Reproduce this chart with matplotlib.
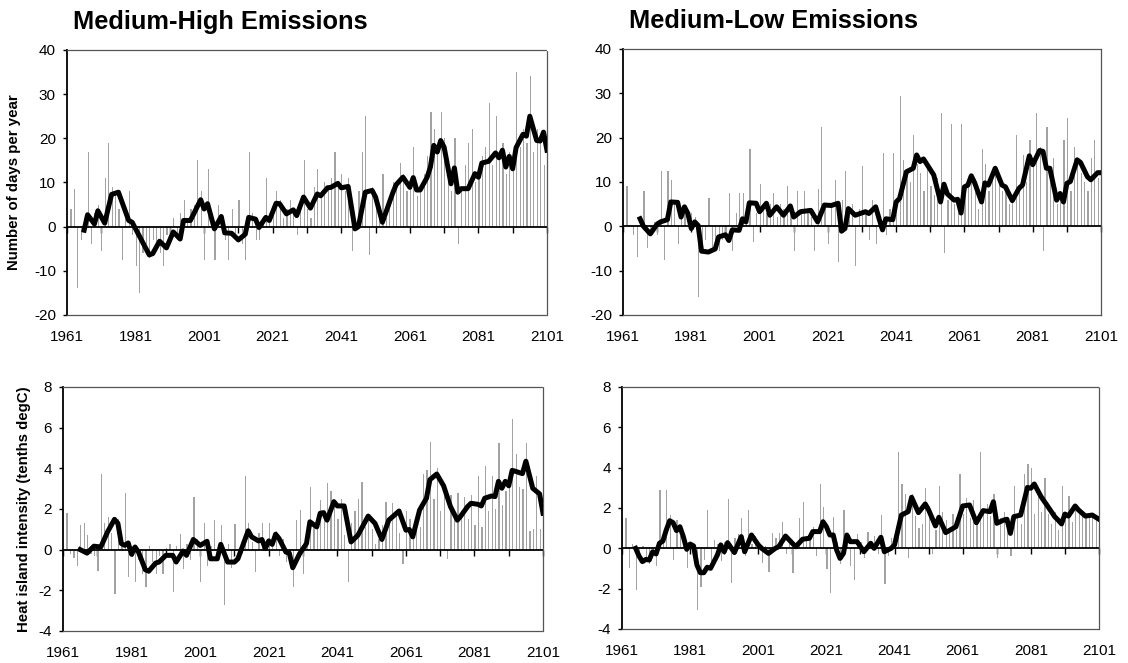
import matplotlib
matplotlib.use('Agg')
import matplotlib.pyplot as plt

plt.rcParams['font.family'] = ['Liberation Sans', 'DejaVu Sans']
plt.rcParams['axes.unicode_minus'] = False

# ----------------------------- DATA --------------------------------------------------
bar_years = list(range(1961, 2101))
label_years = list(range(1961, 2102, 20))
decade_years = list(range(1961, 2102, 10))

# annual values, one per year 1961-2100
mh_days = [0, 4, 8.5, -14, -3, 2, 17, -4, 3, 5,
           -5.5, 11, 19, 9, 8, 4, -7.5, 3, 8, -2,
           -9, -15, -6, -4, -7, -3, -5, -6, -9, -2,
           -4, 2, -3, 3, 6, 1, 4, 5, 15, 8,
           -7.5, 13, 3, -7.5, 5, 2, -3, -7.5, 4, -2,
           6, -4, -7.5, 17, 3, -3, -3, 2, 11, 1,
           5, 8, 6, 2, 4, 6, 3, -2, 5, 15,
           4, 2, 9, 13, 8, 10, 9, 11, 17, 10,
           12, 8, 11, -5.5, -1, 8, 17, 25, -6.5, 9,
           5, 3, 12, 2, 6, 10, 9, 14.5, 12, 8,
           10, 18, 7, 8, 12, 16, 26, 22, 18, 26,
           20, 12, 8, 20, -4, 9, 14, 19, 22, 10,
           12, 16, 18, 28, 14, 25, 16, 19, 12, 17,
           14, 35, 18, 22, 19, 34, 17, 22, 20, 14]

ml_days = [0, 9, 0, -2, -7, 2, 8, -5, -1, 1,
           -2, 12.5, -7.5, 12.5, 10.5, 5, -4, 3, 4, 2,
           3, 2, -16, -6, -3, 6.5, -5, -4, -5.5, -3,
           -2, 7.5, -5.5, 3, 7.5, 7.5, 2, 17.5, -3.5, 3,
           9.5, 4, 3, 5, 7.5, 2, 5, 4, 9, 3,
           -5.5, 8, 3, 8, 4, 2, -5.5, 8.5, 22.5, 4,
           -4, 5, 10.5, -8, 6, 12.5, 3, 5, -9, 4,
           13.5, 3, -3, 6, -4, 2, 16.5, -2, 4, 16.5,
           6, 29.5, 15, 12, 10, 20.5, 14, 12, 8, 14,
           9, 7, 11, 25.5, -6, 6, 23, 5, 3, 23,
           8, 10, 11, 9, 4, 17.5, 14, 8, 12, 13,
           10, 8, 9, 5, 6, 20.5, 8, 16, 10, 19.5,
           14, 25.5, 18, -5.5, 22.5, 10, 15.5, 5, 8, 19.5,
           24.5, 8, 18, 14, 12, 10, 8, 15.5, 19.5, 11]

mh_heat = [0, 1.8, -0.2, -0.4, -0.8, 1.2, 1.3, 0.7, -0.2, -0.3,
           -1.05, 3.7, 1.3, 1.6, 0.8, -2.2, 1.5, 0.4, 2.8, -1.35,
           0.2, -1.6, -0.5, -1.2, -1.85, 0.2, -0.6, -1.2, -0.3, -1.2,
           0.1, 0.3, -2.1, 0.2, 0.76, -0.94, 0.3, -0.5, 2.6, 0.5,
           -1.6, 1.3, -0.8, 0.2, 1.45, -0.5, 1.2, -2.7, 0.3, -0.9,
           1.25, -0.5, -0.2, 3.6, 1.3, 0.4, -1.1, 0.8, 1.3, 0.4,
           1.3, 0.6, 0.9, -0.3, 0.5, -0.6, -0.2, -1.85, 1.45, 1.95,
           -1.2, 0.4, 3.1, 1.3, 1.0, 2.45, 1.9, 3.3, 2.9, 2.4,
           1.5, 2.5, 0.7, -1.6, 1.3, 1.9, 2.5, 3.35, 1.1, 1.5,
           1.0, 0.3, 0.5, 1.2, 2.35, 1.5, 2.3, 1.8, 0.8, -0.7,
           1.9, 1.5, 0.5, 1.4, 1.1, 3.7, 3.9, 5.3, 2.5, 4.0,
           1.9, 2.7, -0.45, 2.7, 1.8, 2.8, 1.9, 2.6, 1.5, 2.7,
           1.2, 3.6, 1.1, 4.1, 1.9, 3.6, 2.0, 5.25, 2.2, 2.9,
           3.3, 6.45, 4.7, 3.1, 3.0, 5.25, 0.9, 1.0, 3.6, 1.0]

ml_heat = [1.5, 1.5, -1.0, 0.2, -2.05, -0.5, 0.1, -0.6, -0.8, -0.3,
           -0.9, 2.9, 0.5, 2.9, 1.65, -0.6, 1.4, 0.6, 0.3, -1.0,
           0.25, -0.4, -3.05, -1.9, -0.6, 1.9, -0.8, 0.4, 0.2, -0.65,
           0.3, 2.45, -1.7, 0.5, 0.7, 1.5, -0.4, 1.9, 0.2, 0.6,
           0.3, -0.75, 0.1, -1.15, 0.75, 0.5, 0.75, 1.3, -0.3, 0.2,
           -1.2, 0.3, 1.5, 2.3, 0.6, 0.5, 1.05, -0.4, 3.2, 2.05,
           -1.05, -2.2, 1.55, 0.3, -0.8, 1.9, 0.4, -0.9, -1.55, 0.7,
           0.3, -0.5, 0.8, 0.3, 0.6, -0.3, 1.65, -1.75, -0.4, 0.5,
           0.3, 4.8, 3.2, 2.7, -0.5, 2.7, 1.6, 1.0, 1.2, 3.0,
           2.1, -0.3, 0.9, 3.1, 1.8, 1.4, 1.0, 1.7, 0.9, 3.7,
           1.7, 2.5, 1.5, 2.4, 1.3, 4.8, 1.8, 2.2, 1.6, 2.7,
           -0.5, 1.5, 1.8, 1.0, -0.4, 3.1, 1.65, 1.2, 3.7, 4.2,
           4.0, 1.7, 2.8, 1.8, 3.5, 1.7, 1.2, 1.8, 0.9, 3.1,
           1.4, 2.6, 1.3, 2.2, 1.7, 1.8, 1.6, 1.5, 1.7, 1.5]

# smoothed curves
mh_days_x = [1966, 1967, 1969, 1970, 1972, 1974, 1976, 1979, 1980, 1985, 1986, 1988, 1990, 1992,
             1994, 1995, 1997, 2000, 2001, 2002, 2004, 2006, 2007, 2009, 2011, 2013, 2014, 2016,
             2017, 2019, 2020, 2022, 2023, 2025, 2027, 2028, 2030, 2032, 2034, 2035, 2037, 2038,
             2040, 2041, 2043, 2045, 2046, 2048, 2050, 2051, 2053, 2056, 2057, 2059, 2061, 2062,
             2063, 2064, 2066, 2067, 2068, 2069, 2070, 2071, 2073, 2074, 2075, 2076, 2078, 2080,
             2081, 2082, 2084, 2086, 2087, 2088, 2089, 2090, 2091, 2092, 2094, 2095, 2096, 2098,
             2099, 2100, 2101]
mh_days_y = [-0.8, 2.7, 0.6, 3.6, 0.8, 7.3, 7.8, 1.4, 1.0, -6.4, -6.1, -3.3, -4.8, -1.2,
             -2.8, 1.4, 1.4, 6.1, 4.0, 5.2, -0.5, 2.3, -1.4, -1.5, -3.0, -1.7, 2.1, 1.7,
             -0.2, 2.1, 1.4, 5.3, 5.2, 2.9, 3.8, 2.5, 6.7, 4.2, 7.4, 7.0, 8.8, 8.9,
             9.8, 8.8, 9.1, -0.5, 0, 7.8, 8.2, 6.7, 1.0, 7.6, 9.5, 11.2, 8.9, 11.1,
             8.3, 8.3, 11.1, 13.5, 18.4, 16.9, 19.5, 18.0, 9.7, 13.3, 7.8, 8.6, 8.6, 12.0,
             11.2, 14.4, 14.8, 16.7, 15.6, 17.3, 13.5, 15.9, 13.1, 17.9, 20.9, 20.5, 25.0, 19.5,
             19.4, 21.4, 17.3]

ml_days_x = [1966, 1967, 1969, 1971, 1972, 1974, 1975, 1977, 1978, 1979, 1980, 1981, 1982, 1983,
             1984, 1986, 1988, 1989, 1991, 1992, 1993, 1995, 1996, 1997, 1998, 2000, 2001, 2003,
             2004, 2006, 2008, 2010, 2011, 2013, 2016, 2018, 2020, 2022, 2024, 2025, 2026, 2027,
             2029, 2032, 2033, 2035, 2036, 2037, 2038, 2040, 2041, 2042, 2044, 2046, 2047, 2048,
             2049, 2052, 2054, 2055, 2056, 2058, 2059, 2060, 2061, 2062, 2063, 2064, 2066, 2067,
             2068, 2070, 2072, 2073, 2075, 2077, 2078, 2080, 2081, 2083, 2084, 2085, 2086, 2088,
             2089, 2090, 2091, 2092, 2094, 2095, 2097, 2098, 2100, 2101]
ml_days_y = [1.7, 0.0, -1.7, 0.5, 1.0, 1.5, 5.5, 5.4, 2.1, 4.4, 2.9, -0.5, 1.0, 0.2,
             -5.6, -5.8, -5.1, -2.4, -1.9, -3.2, -0.8, -0.9, 1.7, 1.0, 5.3, 5.2, 3.3, 5.2,
             2.5, 4.4, 2.5, 4.6, 2.1, 3.3, 3.6, 1.0, 4.8, 4.7, 5.2, -1.1, -0.5, 4.0,
             2.5, 3.3, 2.9, 4.4, 1.7, -0.8, 1.7, 1.5, 5.5, 6.3, 12.3, 13.1, 16.1, 14.6,
             15.2, 11.6, 5.5, 9.5, 7.3, 5.9, 6.1, 3.0, 8.9, 9.3, 11.4, 9.8, 5.5, 9.8,
             9.3, 13.1, 9.3, 8.9, 5.8, 8.6, 9.3, 15.9, 13.9, 17.1, 16.9, 13.1, 13.1, 5.9,
             7.4, 5.5, 9.7, 10.1, 15.0, 14.4, 11.2, 10.5, 12.1, 12.1]

mh_heat_x = [1966, 1968, 1970, 1972, 1973, 1974, 1976, 1977, 1978, 1979, 1980, 1981, 1982, 1983,
             1985, 1986, 1988, 1989, 1991, 1993, 1994, 1996, 1997, 1999, 2001, 2003, 2004, 2006,
             2007, 2009, 2011, 2012, 2015, 2016, 2018, 2019, 2020, 2021, 2022, 2023, 2024, 2026,
             2027, 2028, 2030, 2031, 2032, 2033, 2035, 2036, 2037, 2038, 2040, 2041, 2043, 2045,
             2047, 2050, 2052, 2054, 2056, 2059, 2061, 2062, 2063, 2065, 2067, 2068, 2070, 2072,
             2074, 2076, 2077, 2079, 2080, 2082, 2083, 2084, 2086, 2087, 2088, 2089, 2090, 2091,
             2092, 2093, 2095, 2096, 2098, 2100, 2101]
mh_heat_y = [0, -0.17, 0.17, 0.13, 0.5, 0.88, 1.49, 1.29, 0.3, 0.21, 0.33, -0.23, 0.13, -0.12,
             -0.99, -1.06, -0.66, -0.61, -0.28, -0.28, -0.61, -0.07, -0.28, 0.5, 0.21, 0.41, -0.45, -0.45,
             0.26, -0.61, -0.61, -0.45, 0.93, 0.63, 0.43, 0.5, 0.05, 0.43, 0.26, 0.76, 0.55, -0.12,
             -0.17, -0.89, -0.2, 0.05, 0.3, 1.37, 1.12, 1.79, 1.82, 1.45, 2.36, 2.15, 2.15, 0.38,
             0.71, 1.65, 1.29, 0.5, 1.45, 1.9, 0.96, 0.99, 0.63, 1.95, 2.53, 3.44, 3.72, 3.14,
             2.12, 1.45, 1.65, 2.12, 2.28, 2.23, 2.15, 2.53, 2.64, 2.61, 3.36, 3.02, 3.36, 3.14,
             3.9, 3.85, 3.74, 4.35, 3.02, 2.74, 1.79]

ml_heat_x = [1965, 1966, 1967, 1968, 1969, 1970, 1971, 1972, 1973, 1974, 1975, 1976, 1977, 1978,
             1979, 1980, 1981, 1982, 1983, 1984, 1985, 1986, 1987, 1989, 1990, 1991, 1992, 1994,
             1996, 1997, 1999, 2001, 2002, 2004, 2006, 2007, 2009, 2011, 2012, 2014, 2016, 2017,
             2019, 2020, 2021, 2022, 2023, 2024, 2025, 2026, 2027, 2028, 2030, 2032, 2034, 2035,
             2037, 2038, 2040, 2041, 2043, 2045, 2046, 2048, 2050, 2051, 2053, 2054, 2056, 2059,
             2061, 2063, 2065, 2067, 2069, 2070, 2071, 2073, 2074, 2075, 2076, 2078, 2080, 2081,
             2082, 2084, 2086, 2088, 2089, 2090, 2091, 2092, 2094, 2095, 2097, 2099, 2101]
ml_heat_y = [0, -0.38, -0.66, -0.55, -0.58, -0.17, -0.28, 0.25, 0.36, 0.91, 1.37, 1.27, 0.88, 1.07,
             0.58, -0.05, 0.21, 0.12, -0.83, -1.21, -1.21, -0.94, -0.99, -0.33, 0.17, -0.17, 0.28, -0.21,
             0.58, -0.17, 0.66, 0.17, 0, -0.25, 0, 0.08, 0.61, 0.25, 0.08, 0.45, 0.5, 0.83,
             0.83, 1.32, 1.07, 0.66, 0.66, -0.08, -0.5, -0.25, 0.66, 0.33, 0.33, -0.17, 0.25, 0,
             0.55, -0.17, 0, 0.17, 1.65, 1.82, 2.53, 1.77, 2.2, 1.9, 1.11, 1.54, 0.78, 1.07,
             2.1, 2.15, 1.27, 1.87, 1.82, 2.31, 1.24, 1.4, 1.44, 0.74, 1.57, 1.65, 3.02, 2.98,
             3.19, 2.56, 2.07, 1.57, 1.4, 1.21, 1.7, 1.6, 2.1, 1.9, 1.6, 1.65, 1.44]


# ----------------------------- PLOTTING --------------------------------------------------
def draw_panel(ax, bars, line_x, line_y, ylim, ystep, ylabel=None, label_x=None, title=None):
    ax.bar(bar_years, bars, width=0.35, align='edge', color='#a3a3a3', linewidth=0, zorder=1)
    ax.axhline(0, color='black', linewidth=1.3, zorder=2)
    ax.plot(line_x, line_y, color='black', linewidth=3.6, solid_joinstyle='round', zorder=3)

    ax.set_xlim(1961, 2101)
    ax.set_ylim(*ylim)
    ax.set_yticks(range(ylim[0], ylim[1] + 1, ystep))
    ax.set_xticks(label_years)
    ax.tick_params(axis='x', length=0, pad=11, labelsize=11)
    ax.tick_params(axis='y', direction='out', length=3, width=1, pad=5, labelsize=11)

    for side in ('top', 'right', 'bottom'):
        ax.spines[side].set_color('#555555')
        ax.spines[side].set_linewidth(0.9)
        ax.spines[side].set_linestyle((0, (1, 1)))
    ax.spines['left'].set_linewidth(1.3)

    # tick marks on the zero line, one every ten years
    zero_pos = (0 - ylim[0]) / (ylim[1] - ylim[0])
    zero_axis = ax.secondary_xaxis(zero_pos)
    zero_axis.set_xticks(decade_years)
    zero_axis.tick_params(axis='x', direction='out', length=4, width=1,
                          labelbottom=False, labeltop=False)
    for sp in zero_axis.spines.values():
        sp.set_visible(False)

    if ylabel:
        ax.set_ylabel(ylabel, fontsize=10.8, fontweight='bold')
        ax.yaxis.set_label_coords(label_x, 0.5)
    if title:
        ax.annotate(title, xy=(0, 1), xycoords='axes fraction', xytext=(6, 28),
                    textcoords='offset pixels', fontsize=18.3, fontweight='bold',
                    ha='left', va='center')


fig = plt.figure(figsize=(11.28, 6.63), dpi=100)
ax1 = fig.add_axes([0.0594, 0.5249, 0.4255, 0.3997])
ax2 = fig.add_axes([0.5523, 0.5249, 0.4238, 0.4012])
ax3 = fig.add_axes([0.0559, 0.0483, 0.4255, 0.3680])
ax4 = fig.add_axes([0.5514, 0.0513, 0.4229, 0.3650])

draw_panel(ax1, mh_days, mh_days_x, mh_days_y, (-20, 40), 10,
           ylabel='Number of days per year', label_x=-0.096, title='Medium-High Emissions')
draw_panel(ax2, ml_days, ml_days_x, ml_days_y, (-20, 40), 10, title='Medium-Low Emissions')
draw_panel(ax3, mh_heat, mh_heat_x, mh_heat_y, (-4, 8), 2,
           ylabel='Heat island intensity (tenths degC)', label_x=-0.067)
draw_panel(ax4, ml_heat, ml_heat_x, ml_heat_y, (-4, 8), 2)

fig.savefig('out.png', dpi=100)
